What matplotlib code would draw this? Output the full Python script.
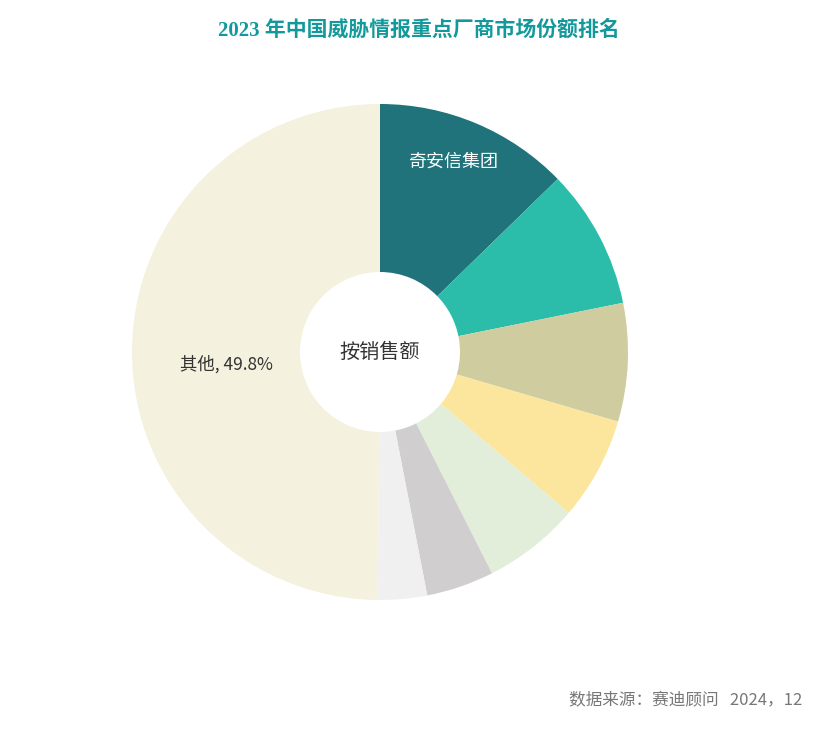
import numpy as np
import matplotlib
matplotlib.use("Agg")
import matplotlib.pyplot as plt

plt.rcParams["font.family"] = ["Noto Sans CJK SC", "DejaVu Sans"]

# market share (%), clockwise from 12 o'clock
vendors = ["奇安信集团", "厂商2", "厂商3", "厂商4", "厂商5", "厂商6", "厂商7", "其他"]
shares = [12.7, 9.1, 7.7, 6.7, 6.3, 4.4, 3.2, 49.8]
colors = ["#20737b", "#2bbda9", "#cfcc9f", "#fce59c", "#e2eed9",
          "#d0cecf", "#f0f0f0", "#f5f1df"]

title = "2023 年中国威胁情报重点厂商市场份额排名"
center_text = "按销售额"
source_text = "数据来源：赛迪顾问   2024，12"

W, H = 826, 729
fig = plt.figure(figsize=(W / 100, H / 100), dpi=100)
fig.patch.set_facecolor("white")

cx, cy, r = 380, 352, 248
ax = fig.add_axes([(cx - r) / W, (H - cy - r) / H, 2 * r / W, 2 * r / H])

wedges, _ = ax.pie(
    shares, colors=colors, startangle=90, counterclock=False, radius=1.0,
    wedgeprops=dict(width=1 - 80 / 248, linewidth=0),
)
ax.set_xlim(-1, 1)
ax.set_ylim(-1, 1)
ax.set_aspect("equal")
ax.axis("off")

# slice labels
total = sum(shares)
cum = np.cumsum([0] + shares)
mids = 90 - (cum[:-1] + np.array(shares) / 2) / total * 360

a = np.deg2rad(mids[0] + 2)
ax.text(0.83 * np.cos(a), 0.82 * np.sin(a), vendors[0], color="white",
        fontsize=13, ha="center", va="center")
a = np.deg2rad(mids[-1] + 5)
ax.text(0.62 * np.cos(a), 0.62 * np.sin(a), f"{vendors[-1]}, {shares[-1]}%",
        color="#333333", fontsize=12.5, ha="center", va="center")

ax.text(0, 0, center_text, fontsize=14.5, color="#333333", ha="center", va="center")

fig.text(419 / W, 1 - 30 / H, title, color="#13999b", fontsize=15,
         fontweight="bold", ha="center", va="center",
         family=["Liberation Serif", "Noto Sans CJK SC"])
fig.text(802 / W, 1 - 700 / H, source_text, color="#777777", fontsize=12,
         ha="right", va="center")

fig.savefig("out.png", dpi=100, facecolor="white")
